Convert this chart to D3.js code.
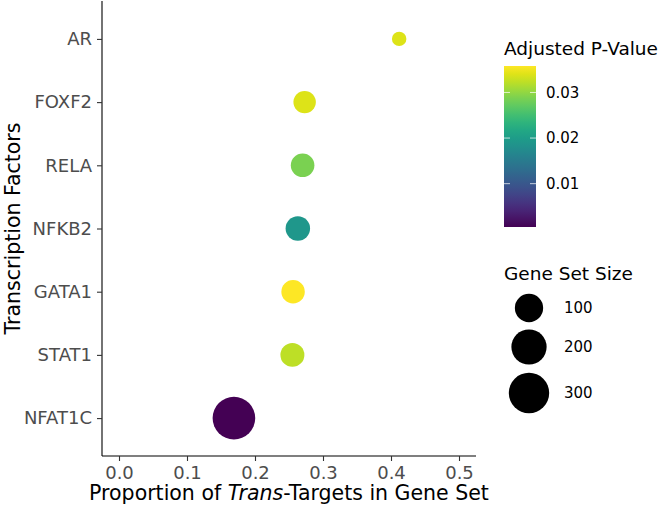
<!DOCTYPE html>
<html>
<head>
<meta charset="utf-8">
<script src="https://cdn.jsdelivr.net/npm/d3@7"></script>
<style>
  body { margin: 0; background: #fff; }
  svg { display: block; }
  text { font-family: "DejaVu Sans", sans-serif; }
</style>
</head>
<body>
<div id="chart"></div>
<script>
var w = 660;
var h = 508;

// data
var factors = ["AR", "FOXF2", "RELA", "NFKB2", "GATA1", "STAT1", "NFAT1C"];
var proportion = [0.412, 0.273, 0.270, 0.263, 0.256, 0.255, 0.169];
var pvalue = [0.0340, 0.0340, 0.0287, 0.0192, 0.0358, 0.0323, 0.0005];
var setSize = [20, 47, 55, 62, 54, 58, 350];

var xTicks = [0.0, 0.1, 0.2, 0.3, 0.4, 0.5];
var pTicks = [0.01, 0.02, 0.03];
var sizeBreaks = [100, 200, 300];

var svg = d3.select("#chart")
    .append("svg")
    .attr("width", w)
    .attr("height", h);

var panel = { left: 102, right: 476, top: 1, bottom: 456 };

var x = d3.scaleLinear()
    .domain([-0.025, 0.525])
    .range([panel.left, panel.right]);

var y = d3.scalePoint()
    .domain(factors)
    .range([panel.top, panel.bottom])
    .padding(0.6);

var pMin = d3.min(pvalue), pMax = d3.max(pvalue);
var color = d3.scaleSequential(d3.interpolateViridis)
    .domain([pMin, pMax]);

var sMin = d3.min(setSize), sMax = d3.max(setSize);
var sizeNorm = d3.scaleLinear().domain([sMin, sMax]).range([0, 1]);
var rLin = d3.scaleLinear().domain([0, 1]).range([7.2, 21.3]);
function radius(v) { return rLin(Math.sqrt(sizeNorm(v))); }

var data = factors.map(function (f, i) {
    return { name: f, prop: proportion[i], p: pvalue[i], size: setSize[i] };
});

// points
svg.selectAll(".dot")
    .data(data)
    .enter()
    .append("circle")
    .attr("class", "dot")
    .attr("cx", function (d) { return x(d.prop); })
    .attr("cy", function (d) { return y(d.name); })
    .attr("r", function (d) { return radius(d.size); })
    .attr("fill", function (d) { return color(d.p); });

// axes
var xAxis = svg.append("g")
    .attr("transform", "translate(0," + panel.bottom + ")")
    .call(d3.axisBottom(x).tickValues(xTicks).tickFormat(d3.format(".1f")).tickSize(5));

var yAxis = svg.append("g")
    .attr("transform", "translate(" + panel.left + ",0)")
    .call(d3.axisLeft(y).tickSize(5).tickPadding(5));

[xAxis, yAxis].forEach(function (a) {
    a.select(".domain").attr("stroke", "#000").attr("stroke-width", 1.1)
        .attr("d", a === xAxis
            ? "M" + panel.left + ",0H" + panel.right
            : "M0," + panel.top + "V" + panel.bottom);
    a.selectAll(".tick line").attr("stroke", "#333").attr("stroke-width", 1.1);
    a.selectAll(".tick text")
        .attr("fill", "#4d4d4d")
        .style("font-size", "18px");
});
xAxis.selectAll(".tick text").attr("y", 23).attr("dy", 0);

// axis titles
var xTitle = svg.append("text")
    .attr("x", (panel.left + panel.right) / 2)
    .attr("y", 500)
    .attr("text-anchor", "middle")
    .style("font-size", "20.5px")
    .attr("fill", "#000");
xTitle.append("tspan").text("Proportion of ");
xTitle.append("tspan").attr("font-style", "italic").text("Trans");
xTitle.append("tspan").text("-Targets in Gene Set");

svg.append("text")
    .attr("transform", "translate(20," + ((panel.top + panel.bottom) / 2) + ") rotate(-90)")
    .attr("text-anchor", "middle")
    .style("font-size", "20.5px")
    .attr("fill", "#000")
    .text("Transcription Factors");

// colour legend
var legX = 504;
svg.append("text")
    .attr("x", legX)
    .attr("y", 55)
    .style("font-size", "18.5px")
    .text("Adjusted P-Value");

var barTop = 66, barBottom = 227, barW = 32;
var pBar = d3.scaleLinear().domain([pMin, pMax]).range([barBottom, barTop]);

var defs = svg.append("defs");
var grad = defs.append("linearGradient")
    .attr("id", "viridis")
    .attr("x1", "0").attr("y1", "1").attr("x2", "0").attr("y2", "0");
d3.range(0, 1.0001, 0.05).forEach(function (t) {
    grad.append("stop")
        .attr("offset", t)
        .attr("stop-color", d3.interpolateViridis(t));
});

svg.append("rect")
    .attr("x", legX)
    .attr("y", barTop)
    .attr("width", barW)
    .attr("height", barBottom - barTop)
    .attr("fill", "url(#viridis)");

var pt = svg.selectAll(".ptick")
    .data(pTicks)
    .enter()
    .append("g")
    .attr("class", "ptick");
pt.append("line")
    .attr("x1", legX).attr("x2", legX + 6)
    .attr("y1", function (d) { return pBar(d); })
    .attr("y2", function (d) { return pBar(d); })
    .attr("stroke", "#fff").attr("stroke-opacity", 0.7);
pt.append("line")
    .attr("x1", legX + barW - 6).attr("x2", legX + barW)
    .attr("y1", function (d) { return pBar(d); })
    .attr("y2", function (d) { return pBar(d); })
    .attr("stroke", "#fff").attr("stroke-opacity", 0.7);
pt.append("text")
    .attr("x", 546)
    .attr("y", function (d) { return pBar(d); })
    .attr("dy", "0.36em")
    .style("font-size", "15px")
    .text(function (d) { return d3.format(".2f")(d); });

// size legend
svg.append("text")
    .attr("x", legX)
    .attr("y", 280)
    .style("font-size", "18.5px")
    .text("Gene Set Size");

var sizeY = d3.scaleOrdinal().domain(sizeBreaks).range([308, 347, 393]);
var sl = svg.selectAll(".skey")
    .data(sizeBreaks)
    .enter()
    .append("g")
    .attr("class", "skey");
sl.append("circle")
    .attr("cx", 529)
    .attr("cy", function (d) { return sizeY(d); })
    .attr("r", function (d) { return radius(d); })
    .attr("fill", "#000");
sl.append("text")
    .attr("x", 564)
    .attr("y", function (d) { return sizeY(d); })
    .attr("dy", "0.36em")
    .style("font-size", "15px")
    .text(function (d) { return d; });
</script>
</body>
</html>
